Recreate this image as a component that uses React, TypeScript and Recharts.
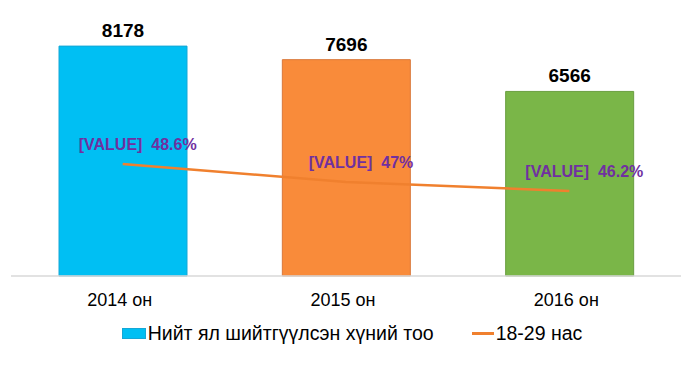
import React from "react";
import { ComposedChart, Bar, Line, XAxis, YAxis, Cell, LabelList, Legend } from "recharts";

const categories = ["2014 он", "2015 он", "2016 он"];
const totalValues = [8178, 7696, 6566];
const youthShare = [48.6, 47, 46.2];
const barColors = ["#00BFF3", "#F98B3A", "#7AB648"];
const barStrokes = ["#14A7D6", "#D9773A", "#6A9E40"];
const seriesNames = ["Нийт ял шийтгүүлсэн хүний тоо", "18-29 нас"];

const data = categories.map((c, i) => ({ name: c, total: totalValues[i], share: youthShare[i] }));

const FONT = "'Liberation Sans', Arial, sans-serif";

const ShareLabel = (props: any) => {
  const { x, y, value } = props;
  return (
    <text x={x + 15} y={y - 18} textAnchor="middle" dominantBaseline="middle" fill="#7030A0" fontFamily={FONT} fontWeight="bold" fontSize={16}>
      {"[VALUE]\u00A0\u00A0" + value + "%"}
    </text>
  );
};

const TotalLabel = (props: any) => {
  const { x, y, width, value } = props;
  return (
    <text x={x + width / 2} y={y - 14} textAnchor="middle" dominantBaseline="middle" fill="#000" fontFamily={FONT} fontWeight="bold" fontSize={19}>
      {value}
    </text>
  );
};

const LegendContent = () => (
  <div style={{ height: 30, display: "flex", alignItems: "center", justifyContent: "center", fontFamily: FONT, fontSize: 19.5, color: "#000", paddingLeft: 4 }}>
    <span style={{ display: "inline-block", width: 22, height: 9, background: barColors[0], border: "1px solid #14A7D6", marginRight: 2 }} />
    <span>{seriesNames[0]}</span>
    <span style={{ display: "inline-block", width: 22, height: 3, background: "#F0802E", marginLeft: 38, marginRight: 2 }} />
    <span>{seriesNames[1]}</span>
  </div>
);

export default function App() {
  return (
    <div style={{ position: "absolute", left: 0, top: 0, background: "#fff" }}>
      <ComposedChart width={700} height={365} data={data} margin={{ top: 23, right: 19, left: 11, bottom: 29 }}>
        <XAxis
          dataKey="name"
          axisLine={{ stroke: "#D9D9D9", strokeWidth: 1.5 }}
          tickLine={false}
          height={30}
          tickMargin={11}
          tick={{ fill: "#000", fontSize: 18, fontFamily: FONT, dx: -3 }}
        />
        <YAxis yAxisId="left" hide domain={[0, 9000]} />
        <YAxis yAxisId="right" hide orientation="right" domain={[38.64, 61.13]} />
        <Legend content={<LegendContent />} wrapperStyle={{ top: 318, left: 0, width: 700 }} />
        <Bar yAxisId="left" dataKey="total" barSize={128} isAnimationActive={false}>
          {data.map((d, i) => (
            <Cell key={d.name} fill={barColors[i]} stroke={barStrokes[i]} strokeWidth={1} />
          ))}
          <LabelList dataKey="total" content={<TotalLabel />} />
        </Bar>
        <Line yAxisId="right" dataKey="share" stroke="#F0802E" strokeWidth={2.5} dot={false} isAnimationActive={false}>
          <LabelList dataKey="share" content={<ShareLabel />} />
        </Line>
      </ComposedChart>
    </div>
  );
}
